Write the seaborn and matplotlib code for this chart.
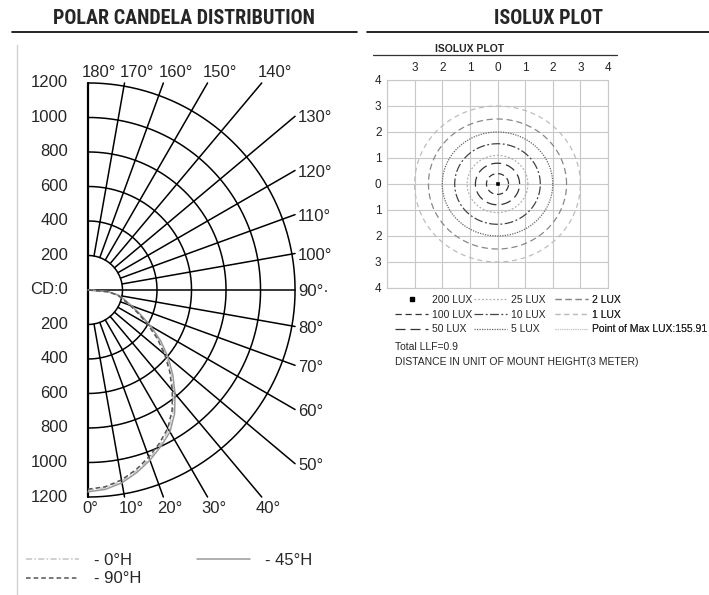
import numpy as np
import pandas as pd
import matplotlib
matplotlib.use("Agg")
import matplotlib.pyplot as plt
import seaborn as sns
from matplotlib.lines import Line2D
from matplotlib import font_manager

sns.set_theme(style="white")
plt.rcParams["font.family"] = ["Liberation Sans", "DejaVu Sans"]

# --- polar candela data (angle from nadir, cd) ---
angles = [0, 5, 10, 15, 20, 25, 30, 35, 40, 45, 50, 55, 60, 65, 70, 75, 80, 85, 90]
cd_0h = [1160, 1150, 1125, 1085, 1040, 990, 935, 860, 770, 680, 590, 500, 410, 330, 265, 215, 180, 120, 0]
cd_45h = [1170, 1160, 1135, 1095, 1050, 1000, 950, 875, 785, 695, 605, 515, 420, 335, 270, 220, 182, 120, 0]
cd_90h = [1155, 1145, 1118, 1078, 1030, 980, 925, 850, 760, 670, 580, 490, 400, 322, 258, 210, 175, 115, 0]
plane_names = ["- 0°H", "- 45°H", "- 90°H"]
ring_values = [200, 400, 600, 800, 1000, 1200]
spoke_angles = list(range(0, 181, 10))
radial_ticks = [1200, 1000, 800, 600, 400, 200, 0, -200, -400, -600, -800, -1000, -1200]
radial_labels = ["1200", "1000", "800", "600", "400", "200", "CD:0",
                 "200", "400", "600", "800", "1000", "1200"]

# --- isolux data (radius in mount heights) ---
lux_levels = ["100 LUX", "50 LUX", "25 LUX", "10 LUX", "5 LUX", "2 LUX", "1 LUX"]
lux_radius = [0.4, 0.8, 1.1, 1.55, 2.0, 2.5, 3.0]
grid_ticks = [-4, -3, -2, -1, 0, 1, 2, 3, 4]
top_labels = ["", "3", "2", "1", "0", "1", "2", "3", "4"]
left_labels = ["4", "3", "2", "1", "0", "1", "2", "3", "4"][::-1]
max_lux = 155.91
total_llf = 0.9

W, H = 709, 595
fig = plt.figure(figsize=(W / 100, H / 100), dpi=100)


def rect(x0, y0, x1, y1):
    return [x0 / W, 1 - y1 / H, (x1 - x0) / W, (y1 - y0) / H]


names = {f.name for f in font_manager.fontManager.ttflist}
title_kw = dict(family="DejaVu Sans", fontweight="bold", fontstretch="condensed")
title_size = 13.5
for cand in ["Liberation Sans Narrow", "Roboto Condensed", "Open Sans Condensed"]:
    if cand in names:
        title_kw = dict(family=cand, fontweight="bold")
        title_size = 14.5
        break

# titles and rules
fig.text(184 / W, 1 - 18 / H, "POLAR CANDELA DISTRIBUTION", ha="center", va="center",
         fontsize=title_size, **title_kw)
fig.text(548 / W, 1 - 18 / H, "ISOLUX PLOT", ha="center", va="center",
         fontsize=title_size, **title_kw)
fig.add_artist(Line2D([12 / W, 357 / W], [1 - 32 / H] * 2, color="black", lw=1.2))
fig.add_artist(Line2D([367 / W, 709 / W], [1 - 32 / H] * 2, color="black", lw=1.2))
fig.add_artist(Line2D([17 / W] * 2, [1 - 45 / H, 0], color="#d0d0d0", lw=1))

# ---------------- polar candela panel ----------------
ax = fig.add_axes(rect(0, 40, 357, 595))
ax.set_xlim(-510, 1559)
ax.set_ylim(-1768, 1449)
ax.axis("off")

th = np.radians(np.linspace(0, 180, 181))
for r in ring_values:
    ax.plot(r * np.sin(th), -r * np.cos(th), color="black", lw=1.1)
ax.plot([0, 0], [-1200, 1200], color="black", lw=1.6)

for a in spoke_angles:
    t = np.radians(a)
    s, c = np.sin(t), -np.cos(t)
    lims = []
    if s > 1e-9:
        lims.append(1200 / s)
    if abs(c) > 1e-9:
        lims.append(1200 / abs(c))
    tmax = min(lims)
    r0 = 0 if a == 90 else 200
    xe, ye = tmax * s, tmax * c
    ax.plot([r0 * s, xe], [r0 * c, ye], color="black", lw=1.1)
    lab = f"{a}°" if a != 90 else "90°·"
    if a < 50:
        ax.text(xe - 35, -1264, lab, ha="left", va="center", fontsize=12)
    elif a <= 130:
        ax.text(1217, ye - 10, lab, ha="left", va="center", fontsize=12)
    elif a == 180:
        ax.text(xe - 35, 1262, lab, ha="left", va="center", fontsize=12)
    else:
        ax.text(xe - 25, 1262, lab, ha="left", va="center", fontsize=12)

for v, lab in zip(radial_ticks, radial_labels):
    ax.text(-116, v, lab, ha="right", va="center", fontsize=12)

rows = []
for name, vals in zip(plane_names, [cd_0h, cd_45h, cd_90h]):
    for a, v in zip(angles, vals):
        t = np.radians(a)
        rows.append({"plane": name, "x": v * np.sin(t), "y": -v * np.cos(t)})
cd_df = pd.DataFrame(rows)
plane_pal = {"- 0°H": "#c4c4c4", "- 45°H": "#9a9a9a", "- 90°H": "#555555"}
plane_dash = {"- 0°H": (4, 1.5, 1, 1.5), "- 45°H": "", "- 90°H": (3, 2)}
sns.lineplot(data=cd_df, x="x", y="y", hue="plane", style="plane", palette=plane_pal,
             dashes=plane_dash, sort=False, estimator=None, legend=False, lw=1.1, ax=ax)

handles = [Line2D([], [], color=plane_pal[n], lw=1.1,
                  dashes=plane_dash[n] if plane_dash[n] else (None, None)) for n in plane_names]
handles[1].set_linestyle("-")
order = [0, 2, 1]
leg = ax.legend([handles[i] for i in order], [plane_names[i] for i in order], ncol=2,
                loc="upper left", bbox_to_anchor=(26 / W, 1 - 553 / H),
                bbox_transform=fig.transFigure, frameon=False, fontsize=12,
                handlelength=3.2, handletextpad=0.9, columnspacing=3.3,
                labelspacing=0.2, borderpad=0, borderaxespad=0)

# ---------------- isolux panel ----------------
fig.text(470 / W, 1 - 49 / H, "ISOLUX PLOT", ha="center", va="center",
         fontsize=7.5, fontweight="bold")
fig.add_artist(Line2D([373 / W, 617 / W], [1 - 55 / H] * 2, color="#333333", lw=0.9))

ax2 = fig.add_axes(rect(387, 80, 608, 288))
ax2.set_xlim(-4, 4)
ax2.set_ylim(-4, 4)
ax2.set_xticks(grid_ticks)
ax2.set_yticks(grid_ticks)
ax2.xaxis.tick_top()
ax2.set_xticklabels(top_labels)
ax2.set_yticklabels(left_labels)
ax2.tick_params(length=0, labelsize=8.5, colors="#222222", pad=4)
ax2.grid(True, color="#c8c8c8", lw=0.8)
for sp in ax2.spines.values():
    sp.set_color("#c8c8c8")
    sp.set_linewidth(0.8)

tt = np.linspace(0, 2 * np.pi, 241)
iso_rows = []
for lev, r in zip(lux_levels, lux_radius):
    for a in tt:
        iso_rows.append({"level": lev, "x": r * np.cos(a), "y": r * np.sin(a)})
iso_df = pd.DataFrame(iso_rows)
lux_pal = {"100 LUX": "#333333", "50 LUX": "#333333", "25 LUX": "#b0b0b0",
           "10 LUX": "#444444", "5 LUX": "#666666", "2 LUX": "#888888",
           "1 LUX": "#bdbdbd"}
lux_dash = {"100 LUX": (5, 3), "50 LUX": (8, 4), "25 LUX": (1.5, 1.5),
            "10 LUX": (7, 2, 1.5, 2), "5 LUX": (1, 1), "2 LUX": (5, 3),
            "1 LUX": (4, 3)}
sns.lineplot(data=iso_df, x="x", y="y", hue="level", style="level", palette=lux_pal,
             dashes=lux_dash, sort=False, estimator=None, legend=False, lw=0.9, ax=ax2)
sns.scatterplot(x=[0], y=[0], marker="s", color="black", s=10, ax=ax2, zorder=5)
ax2.set_xlabel("")
ax2.set_ylabel("")

# isolux legend, three columns
sq = Line2D([], [], ls="none", marker="s", color="black", markersize=3.2)
max_h = Line2D([], [], color="#c8c8c8", lw=0.8, dashes=(1, 1))


def lux_handle(lev):
    return Line2D([], [], color=lux_pal[lev], lw=0.9, dashes=lux_dash[lev])


cols = [
    ([sq, lux_handle("100 LUX"), lux_handle("50 LUX")], ["200 LUX", "100 LUX", "50 LUX"], 395),
    ([lux_handle("25 LUX"), lux_handle("10 LUX"), lux_handle("5 LUX")], ["25 LUX", "10 LUX", "5 LUX"], 474),
    ([lux_handle("2 LUX"), lux_handle("1 LUX"), max_h],
     ["2 LUX", "1 LUX", f"Point of Max LUX:{max_lux}"], 555),
]
for hs, ls, x0 in cols:
    lg = ax2.legend(hs, ls, loc="upper left", bbox_to_anchor=(x0 / W, 1 - 295 / H),
                    bbox_transform=fig.transFigure, frameon=False, fontsize=7.5,
                    handlelength=3.2, handletextpad=0.35, labelspacing=0.45,
                    borderpad=0, borderaxespad=0)
    ax2.add_artist(lg)

fig.text(395 / W, 1 - 347 / H, f"Total LLF={total_llf}", ha="left", va="center", fontsize=7.5)
fig.text(395 / W, 1 - 362 / H, "DISTANCE IN UNIT OF MOUNT HEIGHT(3 METER)",
         ha="left", va="center", fontsize=7.5)

fig.savefig("out.png", dpi=100, facecolor="white")
